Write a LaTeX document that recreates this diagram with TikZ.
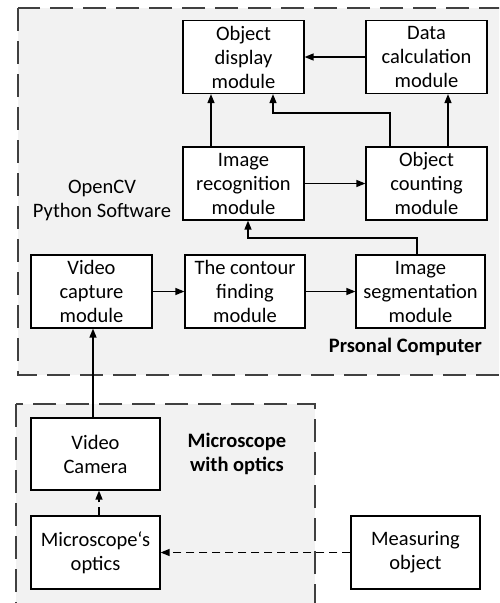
\documentclass[tikz,border=0pt]{standalone}
\usepackage{fontspec}
\setmainfont{Carlito}
\usetikzlibrary{arrows.meta}
\definecolor{regionfill}{HTML}{F2F2F2}
\tikzset{
  box/.style={draw=black, line width=1.2pt, fill=white, align=center, inner sep=0pt,
    font=\fontsize{20.5}{24}\selectfont},
  region/.style={draw=black!75, line width=1.5pt, fill=regionfill, dash pattern=on 23pt off 10pt},
  arr/.style={line width=1.3pt, -{Triangle[length=9pt,width=7pt]}},
  darr/.style={line width=1.3pt, dash pattern=on 8pt off 5pt, -{Triangle[length=9pt,width=7pt]}},
  lbl/.style={align=center, inner sep=0pt, font=\fontsize{20.5}{24}\selectfont},
  blbl/.style={align=center, inner sep=0pt, font=\fontsize{20.5}{24}\selectfont\bfseries}
}
\begin{document}
\begin{tikzpicture}[x=1pt, y=-1pt]
\useasboundingbox (0,0) rectangle (499,603);
\clip (0,0) rectangle (499,603);
% regions
\draw[region] (18,8) rectangle (520,375);
\draw[region] (16,404) rectangle (315,620);
% boxes
\node[box, minimum width=121pt, minimum height=73pt] (disp) at (243.5,57) {Object\\display\\module};
\node[box, minimum width=121pt, minimum height=73pt] (calc) at (426.5,57) {Data\\calculation\\module};
\node[box, minimum width=121pt, minimum height=73pt] (recog) at (243.5,183.5) {Image\\recognition\\module};
\node[box, minimum width=121pt, minimum height=73pt] (count) at (426.5,183.5) {Object\\counting\\module};
\node[box, minimum width=121pt, minimum height=73pt] (vcap) at (91.5,291.5) {Video\\capture\\module};
\node[box, minimum width=120pt, minimum height=73pt] (cont) at (245,291.5) {The contour\\finding\\module};
\node[box, minimum width=129pt, minimum height=73pt] (seg) at (420.5,291.5) {Image\\segmentation\\module};
\node[box, minimum width=129pt, minimum height=72pt] (cam) at (95.5,454) {Video\\Camera};
\node[box, minimum width=129pt, minimum height=73pt] (opt) at (95.5,552.5) {Microscope‘s\\optics};
\node[box, minimum width=129pt, minimum height=73pt] (meas) at (415.5,552.5) {Measuring\\object};
% labels
\node[lbl] (sw) at (102,200) {OpenCV\\Python Software};
\node[blbl, anchor=east] (pc) at (482,347) {Prsonal Computer};
\node[blbl] (mic) at (237,454) {Microscope\\with optics};
% helper coordinates
\coordinate (x211) at (211,0);
\coordinate (x390) at (390,0);
\coordinate (x448) at (448,0);
\coordinate (k1) at (273,113);
\coordinate (x417) at (417,0);
\coordinate (k2) at (248,238);
\coordinate (x93) at (93,0);
\coordinate (x99) at (99,0);
% connectors
\draw[arr] (calc.west) -- (disp.east);
\draw[arr] (recog.north -| x211) -- (disp.south -| x211);
\draw[arr] (count.north -| x390) |- (k1) -- (disp.south -| k1);
\draw[arr] (count.north -| x448) -- (calc.south -| x448);
\draw[arr] (recog.east) -- (count.west);
\draw[arr] (seg.north -| x417) |- (k2) -- (recog.south -| k2);
\draw[arr] (vcap.east) -- (cont.west);
\draw[arr] (cont.east) -- (seg.west);
\draw[arr] (cam.north -| x93) -- (vcap.south -| x93);
\draw[darr] (opt.north -| x99) -- (cam.south -| x99);
\draw[darr] (meas.west) -- (opt.east);
\end{tikzpicture}
\end{document}
